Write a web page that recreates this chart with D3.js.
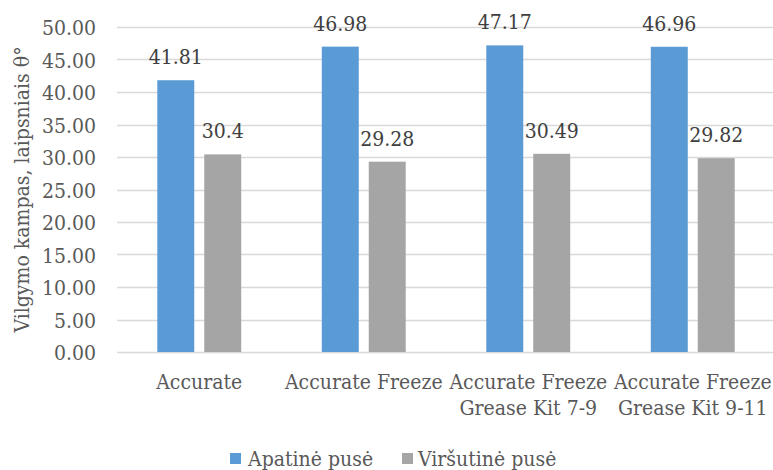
<!DOCTYPE html>
<html>
<head>
<meta charset="utf-8">
<script src="https://cdn.jsdelivr.net/npm/d3@7"></script>
<style>
  html, body { margin: 0; padding: 0; background: #fff; }
  svg { display: block; }
  svg text { font-family: "DejaVu Serif Condensed", "DejaVu Serif"; font-stretch: condensed; }
</style>
</head>
<body>
<svg id="chart" width="773" height="470"></svg>
<script>
// Wetting angle per product, bottom and top side
const categories = ["Accurate", "Accurate Freeze", "Accurate Freeze Grease Kit 7-9", "Accurate Freeze Grease Kit 9-11"];
const seriesNames = ["Apatinė pusė", "Viršutinė pusė"];
const apatine = [41.81, 46.98, 47.17, 46.96];
const virsutine = [30.4, 29.28, 30.49, 29.82];
const valueLabels = [["41.81", "46.98", "47.17", "46.96"], ["30.4", "29.28", "30.49", "29.82"]];
const yTicks = [0, 5, 10, 15, 20, 25, 30, 35, 40, 45, 50];
const yTitle = "Vilgymo kampas, laipsniais θ°";
const colors = ["#5B9BD5", "#A5A5A5"];

const series = [apatine, virsutine];
const svg = d3.select("#chart");
const textColor = "#595959";
const fontSize = 21;

const plot = { left: 117, right: 775, top: 27, bottom: 352 };

const x = d3.scaleBand().domain(categories).range([plot.left, plot.right]).paddingInner(0).paddingOuter(0);
const x1 = d3.scaleBand().domain(seriesNames).range([0, x.bandwidth()]).paddingInner(10 / 47).paddingOuter(0.858);
const y = d3.scaleLinear().domain([0, 50]).range([plot.bottom, plot.top]);

// horizontal gridlines
svg.append("g")
  .selectAll("line")
  .data(yTicks)
  .join("line")
  .attr("x1", plot.left)
  .attr("x2", 773)
  .attr("y1", d => Math.round(y(d)) + 0.5)
  .attr("y2", d => Math.round(y(d)) + 0.5)
  .attr("stroke", "#D9D9D9")
  .attr("stroke-width", 1.4);

// y axis labels
const yAxis = d3.axisLeft(y).tickValues(yTicks).tickFormat(d3.format(".2f")).tickSize(0).tickPadding(0);
const yg = svg.append("g").attr("transform", `translate(96,0)`).call(yAxis);
yg.attr("font-family", null).attr("font-size", null);
yg.select(".domain").remove();
yg.selectAll("text")
  .attr("font-size", fontSize)
  .attr("fill", textColor)
  .attr("dy", "0.36em");

// y axis title
svg.append("text")
  .attr("transform", `translate(29,${(plot.top + plot.bottom) / 2}) rotate(-90)`)
  .attr("text-anchor", "middle")
  .attr("fill", textColor)
  .attr("font-size", fontSize)
  .text(yTitle);

// bars
const groups = svg.append("g")
  .selectAll("g")
  .data(categories)
  .join("g")
  .attr("transform", d => `translate(${x(d)},0)`);

const barData = (c, i) => seriesNames.map((s, k) => ({ s, k, v: series[k][i], label: valueLabels[k][i] }));

groups.selectAll("rect")
  .data(barData)
  .join("rect")
  .attr("x", d => x1(d.s))
  .attr("width", x1.bandwidth())
  .attr("y", d => y(d.v))
  .attr("height", d => y(0) - y(d.v))
  .attr("fill", d => colors[d.k]);

// value labels
groups.selectAll("text.val")
  .data(barData)
  .join("text")
  .attr("class", "val")
  .attr("x", d => x1(d.s) + x1.bandwidth() / 2)
  .attr("y", d => y(d.v) - 16)
  .attr("text-anchor", "middle")
  .attr("fill", "#404040")
  .attr("font-size", fontSize)
  .text(d => d.label);

// category labels, wrapped to the category width
const catG = svg.append("g");
categories.forEach(c => {
  const cx = x(c) + x.bandwidth() / 2;
  const t = catG.append("text")
    .attr("x", cx)
    .attr("y", 389)
    .attr("text-anchor", "middle")
    .attr("fill", textColor)
    .attr("font-size", fontSize);
  const words = c.split(" ");
  let line = [];
  let tspan = t.append("tspan").attr("x", cx).attr("dy", 0);
  words.forEach(w => {
    line.push(w);
    tspan.text(line.join(" "));
    if (tspan.node().getComputedTextLength() > x.bandwidth() - 4 && line.length > 1) {
      line.pop();
      tspan.text(line.join(" "));
      line = [w];
      tspan = t.append("tspan").attr("x", cx).attr("dy", 26).text(w);
    }
  });
});

// legend
const legendItems = [
  { name: seriesNames[0], color: colors[0], sx: 230, tx: 248 },
  { name: seriesNames[1], color: colors[1], sx: 402, tx: 418 }
];
const lg = svg.append("g");
legendItems.forEach(it => {
  lg.append("rect")
    .attr("x", it.sx).attr("y", 453).attr("width", 11).attr("height", 11)
    .attr("fill", it.color);
  lg.append("text")
    .attr("x", it.tx).attr("y", 466)
    .attr("fill", textColor)
    .attr("font-size", fontSize)
    .text(it.name);
});
</script>
</body>
</html>
